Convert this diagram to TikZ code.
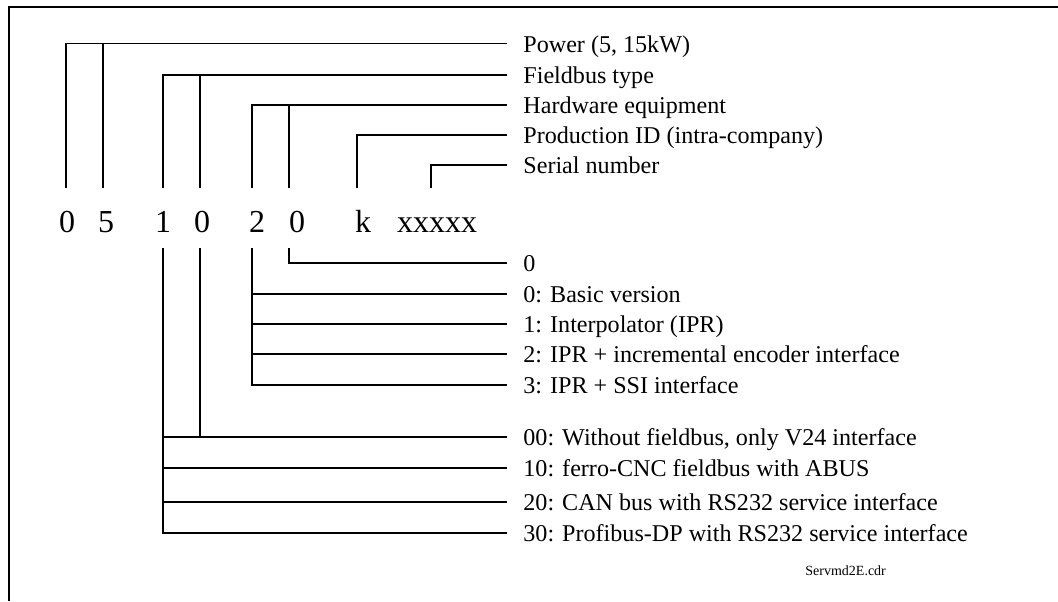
\documentclass[tikz,border=0pt]{standalone}
\usepackage{fontspec}
\setmainfont{Liberation Serif}
\begin{document}
\begin{tikzpicture}[
  x=0.5pt, y=-0.5pt,
  desc/.style={anchor=west, inner xsep=8pt, inner ysep=0pt, text height=9pt, text depth=0.5pt, font=\fontsize{12.05}{14}\selectfont},
  digit/.style={anchor=base, inner sep=0pt, text height=22pt, text depth=8pt, font=\fontsize{16}{18}\selectfont},
  leader/.style={line width=0.7pt}
]
\useasboundingbox (0,0) rectangle (1058,601);
\draw[line width=1pt] (9,601) -- (9,7) -- (1058,7);

\node[digit] at (67,232) (p1) {0};
\node[digit] at (106,232) (p2) {5};
\node[digit] at (163,232) (f1) {1};
\node[digit] at (202,232) (f2) {0};
\node[digit] at (257,232) (h1) {2};
\node[digit] at (297,232) (h2) {0};
\node[digit] at (363,232) (kid) {k};
\node[digit] at (437,232) (xnum) {xxxxx};

\node[desc] at (507,43.5) (power) {Power (5, 15kW)};
\node[desc] at (507,75) (fieldbus) {Fieldbus type};
\node[desc] at (507,105) (hardware) {Hardware equipment};
\node[desc] at (507,135) (prodid) {Production ID (intra-company)};
\node[desc] at (507,165) (serial) {Serial number};

\node[desc] at (507,263) (hwzero) {0};
\node[desc] at (507,294) (basic) {0: Basic version};
\node[desc] at (507,324) (ipr) {1: Interpolator (IPR)};
\node[desc] at (507,354) (iprinc) {2: IPR + incremental encoder interface};
\node[desc] at (507,385) (iprssi) {3: IPR + SSI interface};

\node[desc] at (507,437) (nofb) {00: Without fieldbus, only V24 interface};
\node[desc] at (507,468) (ferro) {10: ferro-CNC fieldbus with ABUS};
\node[desc] at (507,502) (canbus) {20: CAN bus with RS232 service interface};
\node[desc] at (507,533) (profibus) {30: Profibus-DP with RS232 service interface};

\node[anchor=base west, inner sep=0pt, font=\fontsize{7}{8}\selectfont] at (805,575) (fname) {Servmd2E.cdr};

\draw[leader] ([xshift=-0.5pt]p1.north) |- (power.west);
\draw[leader] ([xshift=-1.5pt]p2.north) -- ([xshift=-1.5pt]p2.north |- power.west);
\draw[leader] (f1.north) |- (fieldbus.west);
\draw[leader] ([xshift=-1pt]f2.north) -- ([xshift=-1pt]f2.north |- fieldbus.west);
\draw[leader] ([xshift=-2.5pt]h1.north) |- (hardware.west);
\draw[leader] ([xshift=-4pt]h2.north) -- ([xshift=-4pt]h2.north |- hardware.west);
\draw[leader] ([xshift=-3pt]kid.north) |- (prodid.west);
\draw[leader] ([xshift=-3pt]xnum.north) |- (serial.west);

\draw[leader] ([xshift=-4pt]h2.south) |- (hwzero.west);
\draw[leader] ([xshift=-2.5pt]h1.south) |- (iprssi.west);
\draw[leader] ([xshift=-2.5pt]h1.south |- basic.west) -- (basic.west);
\draw[leader] ([xshift=-2.5pt]h1.south |- ipr.west) -- (ipr.west);
\draw[leader] ([xshift=-2.5pt]h1.south |- iprinc.west) -- (iprinc.west);

\draw[leader] ([xshift=-1pt]f2.south) -- ([xshift=-1pt]f2.south |- nofb.west);
\draw[leader] (f1.south) |- (profibus.west);
\draw[leader] (f1.south |- nofb.west) -- (nofb.west);
\draw[leader] (f1.south |- ferro.west) -- (ferro.west);
\draw[leader] (f1.south |- canbus.west) -- (canbus.west);
\end{tikzpicture}
\end{document}
